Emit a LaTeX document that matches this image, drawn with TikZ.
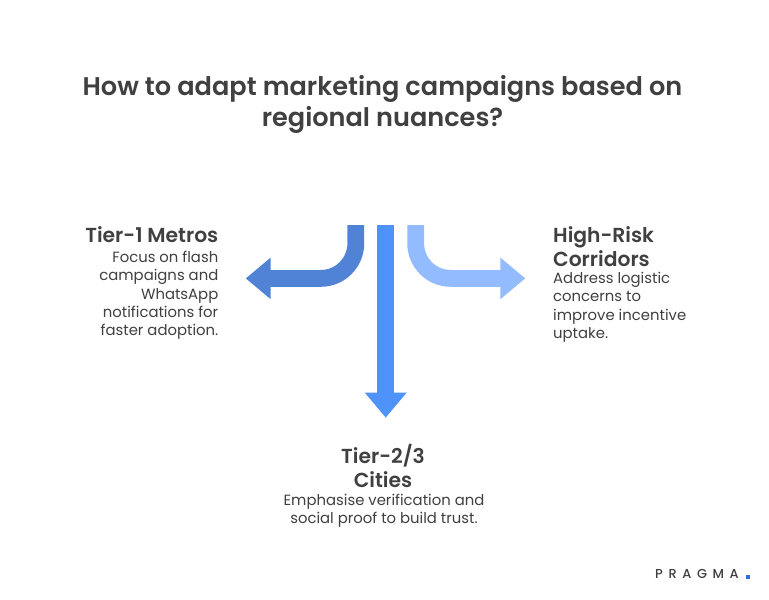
\documentclass[tikz,border=0pt]{standalone}
\usepackage{fontspec}
\setmainfont{Poppins}[BoldFont={Poppins SemiBold}]
\newfontfamily\logofont{Poppins Medium}
\usetikzlibrary{arrows.meta}
\definecolor{txt}{HTML}{404040}
\definecolor{cleft}{HTML}{5082D6}
\definecolor{cmid}{HTML}{4F92FA}
\definecolor{cright}{HTML}{93BBFF}
\definecolor{cdot}{HTML}{2F6FE0}
\tikzset{
  x=1pt,y=-1pt,
  arrowline/.style={line width=16.8pt,rounded corners=35pt,-{Triangle[length=25pt,width=40pt,sep=0pt]}},
  titletext/.style={font=\fontsize{25.6}{31}\selectfont\bfseries,text=txt,align=center,inner sep=0pt},
  headtext/.style={font=\fontsize{20.3}{24}\selectfont\bfseries,text=txt,inner sep=0pt},
  bodytext/.style={font=\fontsize{14.85}{18.3}\selectfont,text=txt,inner sep=0pt},
}
\begin{document}
\begin{tikzpicture}
\useasboundingbox (0,0) rectangle (769,600);
\fill[white] (0,0) rectangle (769,600);
\node[titletext] (title) at (382.5,104.7) {How to adapt marketing campaigns based on\\regional nuances?};
\coordinate (ls) at (355.8,225);
\coordinate (le) at (245.7,278.4);
\coordinate (ms) at (385.7,225);
\coordinate (me) at (385.7,417.7);
\coordinate (rs) at (415.7,225);
\coordinate (re) at (525.3,278.4);
\draw[arrowline,cleft] (ls) |- (le);
\draw[arrowline,cmid,rounded corners=0pt] (ms) -- (me);
\draw[arrowline,cright] (rs) |- (re);
\node[headtext,anchor=north east] (h1) at (218.5,226) {Tier-1 Metros};
\node[bodytext,anchor=north east,align=right] (b1) at (218.5,251) {Focus on flash\\campaigns and\\WhatsApp\\notifications for\\faster adoption.};
\node[headtext,anchor=north west,align=left] (h2) at (553,226) {High-Risk\\Corridors};
\node[bodytext,anchor=north west,align=left] (b2) at (553,272) {Address logistic\\concerns to\\improve incentive\\uptake.};
\node[headtext,align=center,anchor=north] (h3) at (383,444.5) {Tier-2/3\\Cities};
\node[bodytext,align=center,anchor=north] (b3) at (384,494) {Emphasise verification and\\social proof to build trust.};
\node[font=\fontsize{13}{15}\selectfont\logofont,text=txt,inner sep=0pt,anchor=west] (logo) at (655,574) {P\kern5.6pt R\kern5.6pt A\kern5.6pt G\kern5.6pt M\kern5.6pt A};
\fill[cdot] (745.7,575.2) rectangle (749.5,579);
\end{tikzpicture}
\end{document}
